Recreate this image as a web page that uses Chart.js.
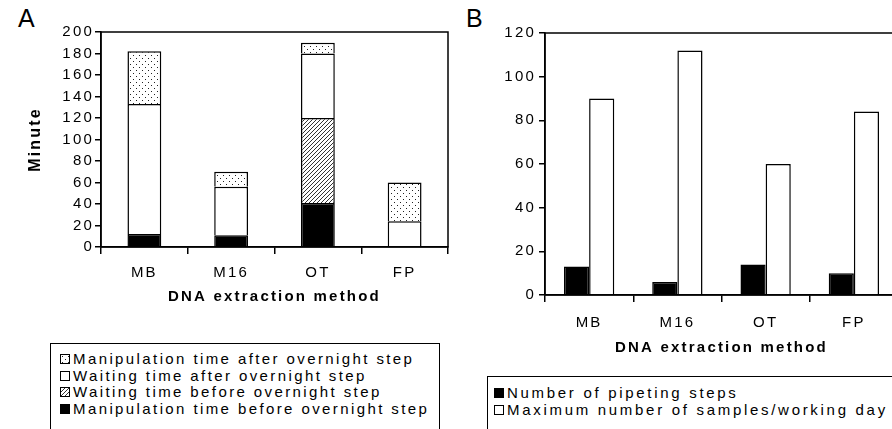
<!DOCTYPE html>
<html>
<head>
<meta charset="utf-8">
<script src="https://cdn.jsdelivr.net/npm/chart.js@4/dist/chart.umd.min.js"></script>
<style>
  html, body { margin: 0; padding: 0; width: 892px; height: 429px; overflow: hidden; background: #fff; }
  body { position: relative; font-family: Arial, "Liberation Sans", sans-serif; color: #000; }
  .painel { position: absolute; top: 0; }
  .letra { position: absolute; font-size: 25px; }
  .legenda { position: absolute; border: 1.5px solid #000; background: #fff; font-size: 15px; }
  .legenda div { height: 16.5px; line-height: 16.5px; white-space: nowrap; }
  .sw { display: inline-block; width: 8px; height: 8px; border: 1px solid #000; margin-right: 3px; vertical-align: 0px; }
</style>
</head>
<body>
<div class="letra" style="left:18px; top:4px;">A</div>
<div class="letra" style="left:466px; top:4px;">B</div>
<div class="painel" style="left:0; width:455px; height:330px;"><canvas id="graficoA"></canvas></div>
<div class="painel" style="left:450px; width:460px; height:370px;"><canvas id="graficoB"></canvas></div>

<div class="legenda" style="left:50px; top:343px; width:390px; height:100px; padding:7px 0 0 9px; box-sizing:border-box; letter-spacing:2.4px;">
  <div><span class="sw" id="swPontos"></span>Manipulation time after overnight step</div>
  <div><span class="sw" style="background:#fff"></span>Waiting time after overnight step</div>
  <div><span class="sw" id="swRiscas"></span>Waiting time before overnight step</div>
  <div><span class="sw" style="background:#000"></span>Manipulation time before overnight step</div>
</div>
<div class="legenda" style="left:487px; top:376px; width:440px; height:80px; padding:8px 0 0 6px; box-sizing:border-box; letter-spacing:2.7px;">
  <div><span class="sw" style="background:#000"></span>Number of pipeting steps</div>
  <div><span class="sw" style="background:#fff"></span>Maximum number of samples/working day</div>
</div>

<script>
const categorias = ["MB", "M16", "OT", "FP"];

// painel A (minutos)
const manipAntes = [12, 11, 41, 0];
const esperaAntes = [0, 0, 79, 0];
const esperaDepois = [121, 45, 60, 24];
const manipDepois = [49, 14, 10, 36];
const ticksA = [0, 20, 40, 60, 80, 100, 120, 140, 160, 180, 200];

// painel B
const passosPipeta = [13, 6, 14, 10];
const maxAmostras = [90, 112, 60, 84];
const ticksB = [0, 20, 40, 60, 80, 100, 120];

Chart.defaults.font.family = 'Arial, "Liberation Sans", sans-serif';
Chart.defaults.color = "#000";

function padraoPontos() {
  const c = document.createElement("canvas");
  c.width = 6; c.height = 6;
  const g = c.getContext("2d");
  g.fillStyle = "#fff"; g.fillRect(0, 0, 6, 6);
  g.fillStyle = "#222";
  g.fillRect(1, 1, 1, 1);
  g.fillRect(4, 4, 1, 1);
  return g.createPattern(c, "repeat");
}

function padraoRiscas() {
  const c = document.createElement("canvas");
  c.width = 4; c.height = 4;
  const g = c.getContext("2d");
  g.fillStyle = "#fff"; g.fillRect(0, 0, 4, 4);
  g.fillStyle = "#333";
  for (let i = 0; i < 4; i++) g.fillRect(i, 3 - i, 1, 1);
  return g.createPattern(c, "repeat");
}

const pontos = padraoPontos();
const riscas = padraoRiscas();

// swatches da legenda com os mesmos padroes
function pintarSw(id, padrao) {
  const el = document.getElementById(id);
  const c = document.createElement("canvas");
  c.width = 8; c.height = 8;
  const g = c.getContext("2d");
  g.fillStyle = padrao; g.fillRect(0, 0, 8, 8);
  el.style.backgroundImage = "url(" + c.toDataURL() + ")";
}
pintarSw("swPontos", pontos);
pintarSw("swRiscas", riscas);

// caixa em volta da area do grafico + letras espacadas como no original
const caixa = {
  id: "caixa",
  beforeDraw(chart) {
    chart.ctx.letterSpacing = "2.2px";
  },
  afterDraw(chart) {
    const a = chart.chartArea, g = chart.ctx;
    g.letterSpacing = "0px";
    g.save();
    g.strokeStyle = "#000";
    g.lineWidth = 1.5;
    g.strokeRect(a.left, a.top, a.right - a.left, a.bottom - a.top);
    g.restore();
  }
};

function eixoX(tituloPad, ticksPad, altura) {
  return {
    afterFit(s) { s.height = altura; },
    grid: { drawOnChartArea: false, drawTicks: true, tickLength: 7, color: "#000", lineWidth: 1.5, offset: true },
    border: { display: true, color: "#000", width: 1.5 },
    ticks: { font: { size: 15 }, padding: ticksPad },
    title: { display: true, text: "DNA extraction method", font: { size: 15, weight: "bold" }, padding: { top: 0, bottom: tituloPad } }
  };
}

function eixoY(ticks, largura, tickPad) {
  return {
    min: ticks[0],
    max: ticks[ticks.length - 1],
    afterFit(s) { s.width = largura; },
    afterBuildTicks(s) { s.ticks = ticks.map(v => ({ value: v })); },
    grid: { drawOnChartArea: false, drawTicks: true, tickLength: 6, color: "#000", lineWidth: 1.5 },
    border: { display: true, color: "#000", width: 1.5 },
    ticks: { font: { size: 15 }, padding: tickPad }
  };
}

// sem contorno nas barras de valor zero
const barBase = {
  borderColor: "#000",
  borderWidth: c => (c.raw === 0 ? 0 : 1.5),
  borderSkipped: "start"
};

const yA = eixoY(ticksA, 101, 1);
yA.stacked = true;
yA.title = { display: true, text: "Minute", font: { size: 16, weight: "bold" }, padding: { top: 26, bottom: 0 } };
const xA = eixoX(24, 10, 83);
xA.stacked = true;

new Chart(document.getElementById("graficoA"), {
  type: "bar",
  data: {
    labels: categorias,
    datasets: [
      Object.assign({ label: "Manipulation time before overnight step", data: manipAntes, backgroundColor: "#000" }, barBase),
      Object.assign({ label: "Waiting time before overnight step", data: esperaAntes, backgroundColor: riscas }, barBase),
      Object.assign({ label: "Waiting time after overnight step", data: esperaDepois, backgroundColor: "#fff" }, barBase),
      Object.assign({ label: "Manipulation time after overnight step", data: manipDepois, backgroundColor: pontos }, barBase)
    ]
  },
  options: {
    responsive: true,
    maintainAspectRatio: false,
    animation: false,
    categoryPercentage: 1,
    barPercentage: 0.39,
    layout: { padding: { left: 0, top: 32, right: 7, bottom: 0 } },
    plugins: { legend: { display: false }, tooltip: { enabled: false } },
    scales: { x: xA, y: yA }
  },
  plugins: [caixa]
});

new Chart(document.getElementById("graficoB"), {
  type: "bar",
  data: {
    labels: categorias,
    datasets: [
      Object.assign({ label: "Number of pipeting steps", data: passosPipeta, backgroundColor: "#000" }, barBase),
      Object.assign({ label: "Maximum number of samples/working day", data: maxAmostras, backgroundColor: "#fff" }, barBase)
    ]
  },
  options: {
    responsive: true,
    maintainAspectRatio: false,
    animation: false,
    categoryPercentage: 0.57,
    barPercentage: 1,
    layout: { padding: { left: 0, top: 33, right: 12, bottom: 0 } },
    plugins: { legend: { display: false }, tooltip: { enabled: false } },
    scales: { x: eixoX(13, 12, 75), y: eixoY(ticksB, 95, 3) }
  },
  plugins: [caixa]
});
</script>
</body>
</html>
